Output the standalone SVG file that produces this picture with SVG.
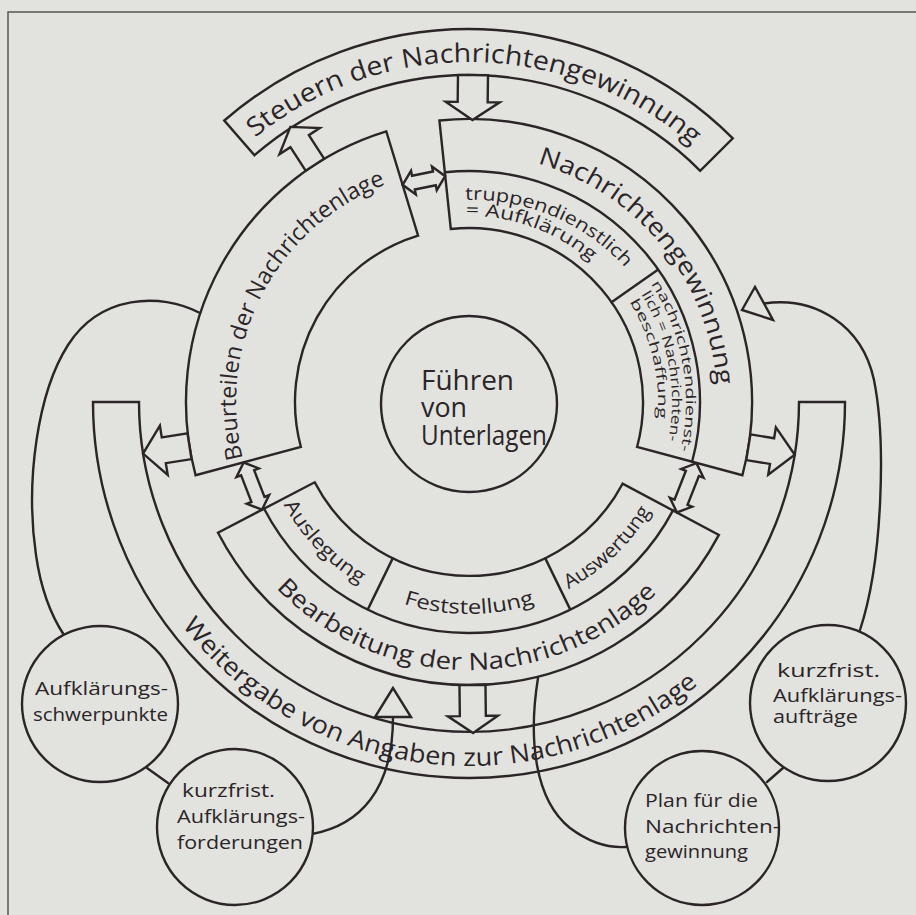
<svg xmlns="http://www.w3.org/2000/svg" width="916" height="915" viewBox="0 0 916 915">
<style>
.ln{fill:none;stroke:#2b2528;stroke-width:2.4;stroke-linejoin:round;stroke-linecap:round}
.sh{fill:#e2e3df;stroke:#2b2528;stroke-width:2.4;stroke-linejoin:miter}
text{font-family:"Open Sans","Liberation Sans",sans-serif;fill:#2b2528}
</style>
<defs>
<path id="tSteuern" d="M255.0,137.8 A340,340 0 0 1 692.1,145.4"/>
<path id="tNG" d="M537.4,163.6 A248,248 0 0 1 716.4,384.7"/>
<path id="tBeurt" d="M242.9,458.4 A233,233 0 0 1 385.5,184.5"/>
<path id="tTrupp1" d="M465.3,200.0 A206,206 0 0 1 624.5,266.9"/>
<path id="tTrupp2" d="M465.8,216.0 A186,186 0 0 1 591.0,261.6"/>
<path id="tND1" d="M651.0,283.9 A217,217 0 0 1 680.4,450.8"/>
<path id="tND2" d="M641.2,294.4 A203,203 0 0 1 668.3,440.7"/>
<path id="tND3" d="M629.3,301.8 A189,189 0 0 1 657.3,418.5"/>
<path id="tAusl" d="M283.6,504.8 A212,212 0 0 0 359.8,583.7"/>
<path id="tFest" d="M403.5,603.6 A212,212 0 0 0 534.5,603.6"/>
<path id="tAusw" d="M568.5,589.2 A212,212 0 0 0 650.7,511.2"/>
<path id="tBearb" d="M276.2,588.2 A268,268 0 0 0 656.8,593.2"/>
<path id="tWeiter" d="M182.2,626.1 A364,364 0 0 0 698.1,684.9"/>
</defs>
<rect width="916" height="915" fill="#e2e3df"/>
<path d="M8,915 V12 H916" fill="none" stroke="#555" stroke-width="1.5"/>

<g id="steuern">
<path class="sh" d="M224.3,120.5 A373,373 0 0 1 732.8,138.3 L700.2,170.8 A327,327 0 0 0 254.5,155.2 Z"/>
<text font-size="26"><textPath href="#tSteuern" textLength="474.7" lengthAdjust="spacingAndGlyphs">Steuern der Nachrichtengewinnung</textPath></text>
</g>

<g id="beurteilen">
<path class="sh" d="M195.6,475.2 A283,283 0 0 1 386.3,131.4 L418.1,235.6 A174,174 0 0 0 300.9,447.0 Z"/>
<text font-size="23"><textPath href="#tBeurt" textLength="337.5" lengthAdjust="spacingAndGlyphs">Beurteilen der Nachrichtenlage</textPath></text>
</g>

<g id="nachrichtengewinnung">
<path class="sh" d="M439.4,120.5 A283,283 0 0 1 742.4,475.2 L637.1,447.0 A174,174 0 0 0 450.8,229.0 Z"/>
<path class="ln" d="M444.9,172.3 A231,231 0 0 1 692.1,461.8 M611.5,302.2 L658.2,269.5"/>
<text font-size="25"><textPath href="#tNG" textLength="303" lengthAdjust="spacingAndGlyphs">Nachrichtengewinnung</textPath></text>
<text font-size="18"><textPath href="#tTrupp1" textLength="179" lengthAdjust="spacingAndGlyphs">truppendienstlich</textPath></text>
<text font-size="18"><textPath href="#tTrupp2" textLength="136" lengthAdjust="spacingAndGlyphs">= Aufklärung</textPath></text>
<text font-size="13.5"><textPath href="#tND1" textLength="174" lengthAdjust="spacingAndGlyphs">nachrichtendienst-</textPath></text>
<text font-size="13.5"><textPath href="#tND2" textLength="152" lengthAdjust="spacingAndGlyphs">lich = Nachrichten-</textPath></text>
<text font-size="13.5"><textPath href="#tND3" textLength="122" lengthAdjust="spacingAndGlyphs">beschaffung</textPath></text>
</g>

<g id="bearbeitung">
<path class="sh" d="M718.9,534.9 A283,283 0 0 1 218.0,532.7 L314.7,482.3 A174,174 0 0 0 622.6,483.7 Z"/>
<path class="ln" d="M673.0,510.4 A231,231 0 0 1 264.1,508.7 M545.3,558.4 L570.3,609.6 M392.7,558.4 L367.7,609.6"/>
<text font-size="20"><textPath href="#tAusl" textLength="111" lengthAdjust="spacingAndGlyphs">Auslegung</textPath></text>
<text font-size="20"><textPath href="#tFest" textLength="133.2" lengthAdjust="spacingAndGlyphs">Feststellung</textPath></text>
<text font-size="20"><textPath href="#tAusw" textLength="114.7" lengthAdjust="spacingAndGlyphs">Auswertung</textPath></text>
<text font-size="24"><textPath href="#tBearb" textLength="423.3" lengthAdjust="spacingAndGlyphs">Bearbeitung der Nachrichtenlage</textPath></text>
</g>

<g id="weitergabe">
<path class="sh" d="M93,402 A376,376 0 0 0 845,402 L799,402 A330,330 0 0 1 139,402 Z"/>
<text font-size="25"><textPath href="#tWeiter" textLength="578.1" lengthAdjust="spacingAndGlyphs">Weitergabe von Angaben zur Nachrichtenlage</textPath></text>
</g>

<g id="fuehren">
<circle class="sh" cx="469" cy="404" r="88"/>
<text font-size="27" x="421" y="390" textLength="93" lengthAdjust="spacingAndGlyphs">Führen</text>
<text font-size="27" x="421" y="417" textLength="46" lengthAdjust="spacingAndGlyphs">von</text>
<text font-size="27" x="421" y="445" textLength="126" lengthAdjust="spacingAndGlyphs">Unterlagen</text>
</g>

<g id="connectors">
<path class="ln" d="M200,313 C160,292 100,295 68,345 C38,392 25,480 36,555 C41,590 50,614 64,635"/>
<path class="ln" d="M147,768 L168,783"/>
<path class="ln" d="M312,834 C360,825 393,790 393,717"/>
<polygon class="sh" points="393,688 375,717 411,717"/>
<path class="ln" d="M538,678 C528,740 535,800 570,828 C590,843 610,848 626,847"/>
<path class="ln" d="M767,782 L783,768"/>
<path class="ln" d="M764,303.5 C815,296 862,325 874,380 C886,440 883,560 860,630"/>
<polygon class="sh" points="742,310 755,287 773,320"/>
<g transform="translate(469,402)">
<polygon class="sh" transform="rotate(-123)" points="283,-11 311,-11 311,-24 328,0 311,24 311,11 283,11"/>
<polygon class="sh" transform="rotate(-89.3)" points="327,-15 300,-15 300,-27 282,0 300,27 300,15 327,15"/>
<polygon class="sh" transform="rotate(171)" points="283,-13 309,-13 309,-25 330,0 309,25 309,13 283,13"/>
<polygon class="sh" transform="rotate(9.2)" points="283,-13 307,-13 307,-24 330,0 307,24 307,13 283,13"/>
<polygon class="sh" transform="rotate(89.3)" points="283,-13 314,-13 314,-25 331,0 314,25 314,13 283,13"/>
</g>
<polygon class="sh" transform="translate(423.9,180.5) rotate(-11.5)" points="-21.7,0 -10.7,-12 -10.7,-7 10.7,-7 10.7,-12 21.7,0 10.7,12 10.7,7 -10.7,7 -10.7,12"/>
<polygon class="sh" transform="translate(252.8,486.1) rotate(248.75)" points="-25.3,0 -14.3,-12 -14.3,-7 14.3,-7 14.3,-12 25.3,0 14.3,12 14.3,7 -14.3,7 -14.3,12"/>
<polygon class="sh" transform="translate(686.7,487.8) rotate(111.5)" points="-26.5,0 -15.5,-12 -15.5,-7 15.5,-7 15.5,-12 26.5,0 15.5,12 15.5,7 -15.5,7 -15.5,12"/>
</g>

<g id="schwerpunkte">
<circle class="sh" cx="100" cy="704" r="78"/>
<text font-size="19" x="35" y="695" textLength="133" lengthAdjust="spacingAndGlyphs">Aufklärungs-</text>
<text font-size="19" x="33" y="721" textLength="135" lengthAdjust="spacingAndGlyphs">schwerpunkte</text>
</g>

<g id="forderungen">
<circle class="sh" cx="235" cy="827" r="78"/>
<text font-size="19" x="182" y="797" textLength="93" lengthAdjust="spacingAndGlyphs">kurzfrist.</text>
<text font-size="19" x="177" y="823" textLength="128" lengthAdjust="spacingAndGlyphs">Aufklärungs-</text>
<text font-size="19" x="177" y="849" textLength="126" lengthAdjust="spacingAndGlyphs">forderungen</text>
</g>

<g id="plan">
<circle class="sh" cx="702" cy="828" r="77"/>
<text font-size="19" x="645" y="807" textLength="113" lengthAdjust="spacingAndGlyphs">Plan für die</text>
<text font-size="19" x="645" y="833" textLength="135" lengthAdjust="spacingAndGlyphs">Nachrichten-</text>
<text font-size="19" x="645" y="858" textLength="103" lengthAdjust="spacingAndGlyphs">gewinnung</text>
</g>

<g id="auftraege">
<circle class="sh" cx="828" cy="703" r="78"/>
<text font-size="19" x="777" y="677" textLength="103" lengthAdjust="spacingAndGlyphs">kurzfrist.</text>
<text font-size="19" x="773" y="702" textLength="129" lengthAdjust="spacingAndGlyphs">Aufklärungs-</text>
<text font-size="19" x="773" y="723" textLength="85" lengthAdjust="spacingAndGlyphs">aufträge</text>
</g>
</svg>
